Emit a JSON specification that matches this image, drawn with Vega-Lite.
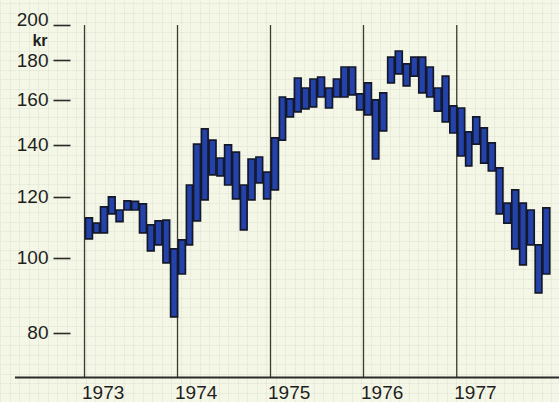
{
  "$schema": "https://vega.github.io/schema/vega-lite/v6.json",
  "width": 559,
  "height": 402,
  "padding": 0,
  "autosize": {"type": "none"},
  "background": "#f5f7e6",
  "config": {"view": {"stroke": null}, "font": "Liberation Sans"},
  "datasets": {
    "prices": [
      {"m": "1973-01-01", "lo": 105.8, "hi": 112.6},
      {"m": "1973-02-01", "lo": 107.7, "hi": 110.9},
      {"m": "1973-03-01", "lo": 107.7, "hi": 116.4},
      {"m": "1973-04-01", "lo": 114.0, "hi": 119.9},
      {"m": "1973-05-01", "lo": 111.4, "hi": 115.3},
      {"m": "1973-06-01", "lo": 115.3, "hi": 118.5},
      {"m": "1973-07-01", "lo": 115.3, "hi": 118.3},
      {"m": "1973-08-01", "lo": 107.7, "hi": 117.4},
      {"m": "1973-09-01", "lo": 102.1, "hi": 110.3},
      {"m": "1973-10-01", "lo": 103.9, "hi": 111.6},
      {"m": "1973-11-01", "lo": 98.5, "hi": 111.9},
      {"m": "1973-12-01", "lo": 83.9, "hi": 102.7},
      {"m": "1974-01-01", "lo": 95.3, "hi": 105.5},
      {"m": "1974-02-01", "lo": 103.9, "hi": 124.2},
      {"m": "1974-03-01", "lo": 111.6, "hi": 140.3},
      {"m": "1974-04-01", "lo": 118.8, "hi": 146.8},
      {"m": "1974-05-01", "lo": 128.0, "hi": 142.0},
      {"m": "1974-06-01", "lo": 127.6, "hi": 134.6},
      {"m": "1974-07-01", "lo": 124.2, "hi": 140.0},
      {"m": "1974-08-01", "lo": 119.2, "hi": 137.0},
      {"m": "1974-09-01", "lo": 108.7, "hi": 124.2},
      {"m": "1974-10-01", "lo": 118.8, "hi": 134.2},
      {"m": "1974-11-01", "lo": 125.0, "hi": 135.0},
      {"m": "1974-12-01", "lo": 119.2, "hi": 129.1},
      {"m": "1975-01-01", "lo": 122.4, "hi": 142.9},
      {"m": "1975-02-01", "lo": 142.0, "hi": 161.4},
      {"m": "1975-03-01", "lo": 152.1, "hi": 160.5},
      {"m": "1975-04-01", "lo": 154.4, "hi": 170.8},
      {"m": "1975-05-01", "lo": 155.8, "hi": 165.8},
      {"m": "1975-06-01", "lo": 156.7, "hi": 170.3},
      {"m": "1975-07-01", "lo": 161.4, "hi": 171.3},
      {"m": "1975-08-01", "lo": 156.2, "hi": 165.8},
      {"m": "1975-09-01", "lo": 161.4, "hi": 170.3},
      {"m": "1975-10-01", "lo": 161.4, "hi": 176.5},
      {"m": "1975-11-01", "lo": 162.4, "hi": 176.5},
      {"m": "1975-12-01", "lo": 155.3, "hi": 162.9},
      {"m": "1976-01-01", "lo": 153.0, "hi": 168.3},
      {"m": "1976-02-01", "lo": 134.2, "hi": 160.0},
      {"m": "1976-03-01", "lo": 145.9, "hi": 163.4},
      {"m": "1976-04-01", "lo": 168.3, "hi": 181.8},
      {"m": "1976-05-01", "lo": 172.9, "hi": 185.1},
      {"m": "1976-06-01", "lo": 166.8, "hi": 178.1},
      {"m": "1976-07-01", "lo": 171.8, "hi": 181.8},
      {"m": "1976-08-01", "lo": 163.4, "hi": 181.8},
      {"m": "1976-09-01", "lo": 161.4, "hi": 176.5},
      {"m": "1976-10-01", "lo": 154.8, "hi": 165.8},
      {"m": "1976-11-01", "lo": 149.9, "hi": 171.8},
      {"m": "1976-12-01", "lo": 145.0, "hi": 157.2},
      {"m": "1977-01-01", "lo": 135.4, "hi": 156.2},
      {"m": "1977-02-01", "lo": 131.5, "hi": 145.5},
      {"m": "1977-03-01", "lo": 140.3, "hi": 152.1},
      {"m": "1977-04-01", "lo": 132.6, "hi": 147.2},
      {"m": "1977-05-01", "lo": 129.5, "hi": 140.8},
      {"m": "1977-06-01", "lo": 114.0, "hi": 130.7},
      {"m": "1977-07-01", "lo": 110.9, "hi": 117.7},
      {"m": "1977-08-01", "lo": 102.7, "hi": 122.4},
      {"m": "1977-09-01", "lo": 97.9, "hi": 117.7},
      {"m": "1977-10-01", "lo": 103.9, "hi": 115.3},
      {"m": "1977-11-01", "lo": 90.1, "hi": 103.9},
      {"m": "1977-12-01", "lo": 95.3, "hi": 116.0}
    ],
    "years": [
      {"year": "1973-01-01"},
      {"year": "1974-01-01"},
      {"year": "1975-01-01"},
      {"year": "1976-01-01"},
      {"year": "1977-01-01"}
    ]
  },
  "layer": [
    {
      "data": {"values": [{"gx": 0, "gy": 0}]},
      "mark": {"type": "point", "opacity": 0},
      "encoding": {
        "x": {
          "field": "gx", "type": "quantitative",
          "scale": {"domain": [0, 58.84], "nice": false, "zero": false},
          "axis": {"orient": "top", "grid": true, "labels": false, "ticks": false, "domain": false, "tickCount": 59, "title": null, "gridColor": "#dde2d3", "gridWidth": 0.8, "gridDash": [2, 1]}
        },
        "y": {
          "field": "gy", "type": "quantitative",
          "scale": {"domain": [0, 42.32], "nice": false, "zero": false},
          "axis": {"orient": "right", "grid": true, "labels": false, "ticks": false, "domain": false, "tickCount": 42, "title": null, "gridColor": "#dde2d3", "gridWidth": 0.8, "gridDash": [2, 1]}
        }
      }
    },
    {
      "layer": [
        {
          "data": {"name": "years"},
          "mark": {"type": "rule", "color": "#3a3a30", "strokeWidth": 1.3},
          "encoding": {
            "x": {
              "field": "year", "timeUnit": "utcyear", "type": "temporal", "bandPosition": 0,
              "axis": {
                "orient": "bottom", "offset": -25,
                "values": [{"year": 1973, "month": 1, "date": 1, "utc": true}, {"year": 1974, "month": 1, "date": 1, "utc": true}, {"year": 1975, "month": 1, "date": 1, "utc": true}, {"year": 1976, "month": 1, "date": 1, "utc": true}, {"year": 1977, "month": 1, "date": 1, "utc": true}],
                "format": "%Y", "formatType": "utc",
                "labelAlign": "left", "labelOffset": -3, "labelPadding": 6, "labelFontSize": 19, "labelColor": "#1e1e1e",
                "ticks": false, "domain": false, "grid": false, "title": null, "labelFlush": false, "labelOverlap": false
              }
            },
            "y": {"datum": 200, "type": "quantitative"},
            "y2": {"datum": 70}
          }
        },
        {
          "data": {"name": "prices"},
          "mark": {"type": "bar", "fill": "#2343aa", "stroke": "#141829", "strokeWidth": 1.7},
          "encoding": {
            "x": {
              "field": "m", "timeUnit": "utcyearmonth", "type": "temporal",
              "scale": {"domain": [{"year": 1972, "month": 2, "date": 4, "hours": 7, "utc": true}, {"year": 1978, "month": 2, "date": 6, "hours": 7, "utc": true}], "nice": false},
              "axis": {
                "orient": "bottom", "offset": -25,
                "values": [{"year": 1973, "month": 1, "date": 1, "utc": true}, {"year": 1974, "month": 1, "date": 1, "utc": true}, {"year": 1975, "month": 1, "date": 1, "utc": true}, {"year": 1976, "month": 1, "date": 1, "utc": true}, {"year": 1977, "month": 1, "date": 1, "utc": true}],
                "format": "%Y", "formatType": "utc",
                "labelAlign": "left", "labelOffset": -3, "labelPadding": 6, "labelFontSize": 19, "labelColor": "#1e1e1e",
                "ticks": false, "domain": false, "grid": false, "title": null, "labelFlush": false, "labelOverlap": false
              }
            },
            "y": {
              "field": "hi", "type": "quantitative",
              "scale": {"type": "log", "domain": [65.1, 215.45], "nice": false, "zero": false},
              "axis": {
                "orient": "left", "offset": -70,
                "values": [80, 100, 120, 140, 160, 180, 200], "format": "d",
                "domain": false, "grid": false, "ticks": true, "tickSize": 17, "tickWidth": 1.6, "tickColor": "#2a2a2a",
                "labelPadding": 5, "labelFontSize": 19, "labelColor": "#1e1e1e", "labelOverlap": false,
                "labelOffset": {"condition": {"test": "datum.value == 200", "value": -5}, "value": 0},
                "title": "kr", "titleAngle": 0, "titleAlign": "right", "titleBaseline": "alphabetic",
                "titleX": -23, "titleY": 45, "titleFontSize": 16, "titleFontWeight": "bold", "titleColor": "#1e1e1e"
              }
            },
            "y2": {"field": "lo"}
          }
        },
        {
          "data": {"values": [{"k": 1}]},
          "mark": {"type": "rule", "color": "#2a2a2a", "strokeWidth": 2},
          "encoding": {
            "x": {"datum": {"year": 1972, "month": 4, "date": 3, "utc": true}, "type": "temporal"},
            "x2": {"datum": {"year": 1978, "month": 2, "date": 6, "hours": 7, "utc": true}},
            "y": {"datum": 70, "type": "quantitative"}
          }
        }
      ]
    }
  ],
  "resolve": {
    "scale": {"x": "independent", "y": "independent"},
    "axis": {"x": "independent", "y": "independent"}
  }
}
